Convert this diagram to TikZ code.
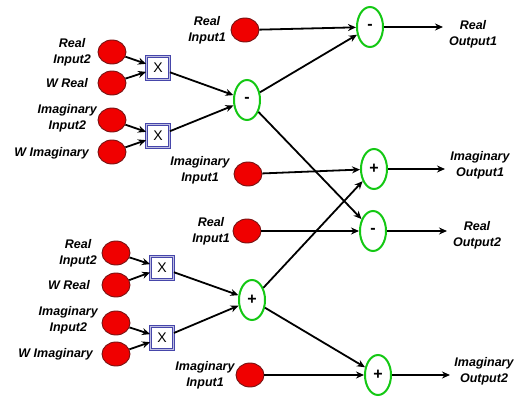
\documentclass[tikz,border=0pt]{standalone}
\usepackage{fontspec}
\setmainfont{Liberation Sans}
\usetikzlibrary{arrows.meta,shapes.geometric}
\definecolor{rcol}{RGB}{240,0,0}
\definecolor{rdark}{RGB}{120,20,20}
\definecolor{gcol}{RGB}{20,200,20}
\definecolor{bcol}{RGB}{70,70,170}
\begin{document}
\begin{tikzpicture}[x=1pt,y=-1pt,
  inp/.style={ellipse,draw=rdark,line width=0.9pt,fill=rcol,minimum width=28pt,minimum height=24pt,inner sep=0pt},
  op/.style={ellipse,draw=gcol,line width=2pt,fill=white,minimum width=26pt,minimum height=40pt,inner sep=0pt,font=\fontsize{16}{16}\selectfont\bfseries},
  mul/.style={rectangle,draw=bcol,double=bcol!35,double distance=1.2pt,line width=0.9pt,fill=white,minimum width=23pt,minimum height=23pt,inner sep=0pt,font=\fontsize{14}{14}\selectfont},
  lab/.style={align=center,inner sep=0pt,font=\fontsize{12.5}{16}\selectfont\bfseries\itshape},
  conn/.style={line width=1.8pt,-{Stealth[length=8pt,width=7pt]}}]
\useasboundingbox (0,0) rectangle (516,396);
% upper half
\node[inp] (ri2a) at (112,52) {};
\node[inp] (wra) at (112,83) {};
\node[inp] (ii2a) at (112,120) {};
\node[inp] (wia) at (112,152) {};
\node[mul] (xa) at (158,68) {X};
\node[mul] (xb) at (158,136) {X};
\node[op] (m1) at (247,100) {-};
\node[inp] (ri1a) at (245,30) {};
\node[inp] (ii1a) at (248,174) {};
\node[op] (mt) at (370,27) {-};
\node[op] (pt) at (374,169) {+};
% lower half
\node[inp] (ri2b) at (116,253) {};
\node[inp] (wrb) at (116,285) {};
\node[inp] (ii2b) at (116,323) {};
\node[inp] (wib) at (116,354) {};
\node[mul] (xc) at (162,268) {X};
\node[mul] (xd) at (162,338) {X};
\node[op] (p1) at (252,300) {+};
\node[inp] (ri1b) at (247,231) {};
\node[inp] (ii1b) at (250,375) {};
\node[op] (mm) at (373,231) {-};
\node[op] (pb) at (378,375) {+};
% labels
\node[lab,anchor=east] (l1) at (91,52) {Real\\Input2};
\node[lab,anchor=east] (l2) at (88,83) {W Real};
\node[lab,anchor=east] (l3) at (97,118) {Imaginary\\Input2};
\node[lab,anchor=east] (l4) at (89,153) {W Imaginary};
\node[lab] (l5) at (207,30) {Real\\Input1};
\node[lab] (l6) at (200,170) {Imaginary\\Input1};
\node[lab,anchor=east] (l7) at (97,253) {Real\\Input2};
\node[lab,anchor=east] (l8) at (90,285) {W Real};
\node[lab,anchor=east] (l9) at (98,320) {Imaginary\\Input2};
\node[lab,anchor=east] (l10) at (93,354) {W Imaginary};
\node[lab] (l11) at (211,231) {Real\\Input1};
\node[lab] (l12) at (205,375) {Imaginary\\Input1};
\node[lab] (o1) at (473,34) {Real\\Output1};
\node[lab] (o2) at (480,165) {Imaginary\\Output1};
\node[lab] (o3) at (477,235) {Real\\Output2};
\node[lab] (o4) at (484,371) {Imaginary\\Output2};
% output ends
\coordinate (e1) at (443,27);
\coordinate (e2) at (445,169);
\coordinate (e3) at (447,231);
\coordinate (e4) at (450,375);
% connectors
\draw[conn] (ri2a) -- (xa);
\draw[conn] (wra) -- (xa);
\draw[conn] (ii2a) -- (xb);
\draw[conn] (wia) -- (xb);
\draw[conn] (xa) -- (m1);
\draw[conn] (xb) -- (m1);
\draw[conn] (ri1a) -- (mt);
\draw[conn] (m1) -- (mt);
\draw[conn] (m1) -- (mm);
\draw[conn] (ii1a) -- (pt);
\draw[conn] (ri2b) -- (xc);
\draw[conn] (wrb) -- (xc);
\draw[conn] (ii2b) -- (xd);
\draw[conn] (wib) -- (xd);
\draw[conn] (xc) -- (p1);
\draw[conn] (xd) -- (p1);
\draw[conn] (ri1b) -- (mm);
\draw[conn] (p1) -- (pt);
\draw[conn] (p1) -- (pb);
\draw[conn] (ii1b) -- (pb);
\draw[conn] (mt) -- (e1);
\draw[conn] (pt) -- (e2);
\draw[conn] (mm) -- (e3);
\draw[conn] (pb) -- (e4);
\end{tikzpicture}
\end{document}
